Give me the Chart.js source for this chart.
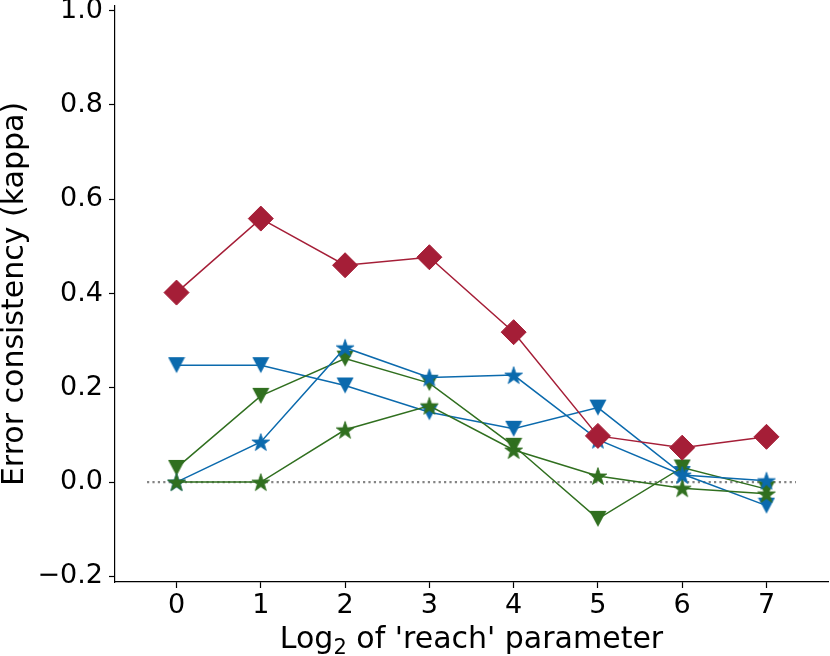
<!DOCTYPE html>
<html>
<head>
<meta charset="utf-8">
<script src="https://cdn.jsdelivr.net/npm/chart.js@4.4.0/dist/chart.umd.min.js"></script>
<style>
  html, body { margin: 0; padding: 0; background: #fff; }
  #chart { display: block; }
</style>
</head>
<body>
<canvas id="chart" width="830" height="656"></canvas>
<script>
// Error consistency vs log2 of the 'reach' parameter

const reachLog2 = [0, 1, 2, 3, 4, 5, 6, 7];
const redDiamond = [0.402, 0.559, 0.460, 0.477, 0.318, 0.098, 0.073, 0.096];
const blueTriangle = [0.248, 0.248, 0.205, 0.148, 0.113, 0.158, 0.017, -0.050];
const blueStar = [0.000, 0.085, 0.285, 0.222, 0.227, 0.090, 0.015, 0.003];
const greenTriangle = [0.030, 0.183, 0.262, 0.210, 0.077, -0.078, 0.031, -0.015];
const greenStar = [0.000, 0.000, 0.111, 0.162, 0.068, 0.013, -0.013, -0.025];
const zeroLineX = [-0.35, 7.35];
const zeroLineY = [0, 0];
const xTicks = [0, 1, 2, 3, 4, 5, 6, 7];
const yTicks = [-0.2, 0.0, 0.2, 0.4, 0.6, 0.8, 1.0];

const RED = '#a51e37';
const BLUE = '#0b6aad';
const GREEN = '#306f1f';
const FONT = 'DejaVu Sans';

function toPoints(ys, xs) {
  return ys.map((y, i) => ({ x: xs[i], y }));
}

// filled marker images (Chart.js has no filled star / down triangle)
function makeStar(color) {
  const c = document.createElement('canvas');
  c.width = 22;
  c.height = 22;
  const g = c.getContext('2d');
  g.beginPath();
  for (let i = 0; i < 10; i++) {
    const r = i % 2 === 0 ? 9.3 : 3.7;
    const a = -Math.PI / 2 + i * Math.PI / 5;
    const px = 11 + r * Math.cos(a);
    const py = 11.9 + r * Math.sin(a);
    if (i === 0) g.moveTo(px, py); else g.lineTo(px, py);
  }
  g.closePath();
  g.fillStyle = color;
  g.fill();
  g.strokeStyle = color;
  g.lineWidth = 0.8;
  g.stroke();
  return c;
}

function makeTriangleDown(color) {
  const c = document.createElement('canvas');
  c.width = 18;
  c.height = 18;
  const g = c.getContext('2d');
  g.beginPath();
  g.moveTo(0.5, 1);
  g.lineTo(17.5, 1);
  g.lineTo(9, 17);
  g.closePath();
  g.fillStyle = color;
  g.fill();
  return c;
}

function lineSet(ys, color, style, radius) {
  return {
    data: toPoints(ys, reachLog2),
    borderColor: color,
    backgroundColor: color,
    borderWidth: 1.5,
    tension: 0,
    pointStyle: style,
    pointRadius: radius,
    pointBorderWidth: 1,
    pointBorderColor: color,
    pointBackgroundColor: color,
  };
}

// x title drawn by hand so the subscript 2 looks like mathtext
const xTitlePlugin = {
  id: 'xTitle',
  afterDraw(chart) {
    const { ctx, chartArea } = chart;
    const main = '30px "' + FONT + '"';
    const sub = '21px "' + FONT + '"';
    const parts = [
      { text: 'Log', font: main, dy: 0 },
      { text: '2', font: sub, dy: 6 },
      { text: " of 'reach' parameter", font: main, dy: 0 },
    ];
    ctx.save();
    ctx.fillStyle = '#000';
    ctx.textBaseline = 'alphabetic';
    let total = 0;
    parts.forEach((p) => {
      ctx.font = p.font;
      p.w = ctx.measureText(p.text).width;
      total += p.w;
    });
    let x = (chartArea.left + chartArea.right) / 2 - total / 2;
    const baseY = 648;
    parts.forEach((p) => {
      ctx.font = p.font;
      ctx.fillText(p.text, x, baseY + p.dy);
      x += p.w;
    });
    ctx.restore();
  },
};

const ctx = document.getElementById('chart').getContext('2d');
new Chart(ctx, {
  type: 'line',
  data: {
    datasets: [
      lineSet(redDiamond, RED, 'rectRot', 12.5),
      lineSet(greenStar, GREEN, makeStar(GREEN), 9),
      lineSet(blueStar, BLUE, makeStar(BLUE), 9),
      lineSet(greenTriangle, GREEN, makeTriangleDown(GREEN), 9),
      lineSet(blueTriangle, BLUE, makeTriangleDown(BLUE), 9),
      {
        data: toPoints(zeroLineY, zeroLineX),
        borderColor: '#858585',
        borderWidth: 2.2,
        borderDash: [2.2, 3.2],
        pointRadius: 0,
        tension: 0,
      },
    ],
  },
  plugins: [xTitlePlugin],
  options: {
    responsive: false,
    animation: false,
    layout: { autoPadding: false, padding: { top: 6, right: 2, left: 0, bottom: 0 } },
    plugins: {
      legend: { display: false },
      tooltip: { enabled: false },
    },
    scales: {
      x: {
        type: 'linear',
        min: -0.73,
        max: 7.73,
        afterBuildTicks: (scale) => {
          scale.ticks = xTicks.map((v) => ({ value: v }));
        },
        afterFit: (scale) => {
          scale.height = 74;
          scale.paddingLeft = 0;
          scale.paddingRight = 0;
        },
        border: { display: true, color: '#000', width: 1.2 },
        grid: {
          display: true,
          drawOnChartArea: false,
          drawTicks: true,
          tickLength: 6,
          tickColor: '#000',
          tickWidth: 1.2,
        },
        ticks: {
          color: '#000',
          padding: 4,
          maxRotation: 0,
          font: { family: FONT, size: 27, lineHeight: 1 },
          callback: (v) => String(v),
        },
        title: { display: false },
      },
      y: {
        type: 'linear',
        min: -0.212,
        max: 1.01,
        afterBuildTicks: (scale) => {
          scale.ticks = yTicks.map((v) => ({ value: v }));
        },
        afterFit: (scale) => {
          scale.width = 115;
          scale.paddingTop = 0;
          scale.paddingBottom = 0;
        },
        border: { display: true, color: '#000', width: 1.2 },
        grid: {
          display: true,
          drawOnChartArea: false,
          drawTicks: true,
          tickLength: 6,
          tickColor: '#000',
          tickWidth: 1.2,
        },
        ticks: {
          color: '#000',
          padding: 6,
          font: { family: FONT, size: 27, lineHeight: 1 },
          callback: (v) => (v < 0 ? '\u2212' + Math.abs(v).toFixed(1) : v.toFixed(1)),
        },
        title: {
          display: true,
          text: 'Error consistency (kappa)',
          color: '#000',
          font: { family: FONT, size: 30, lineHeight: 1 },
          padding: { top: 0, bottom: 0 },
        },
      },
    },
  },
});
</script>
</body>
</html>
